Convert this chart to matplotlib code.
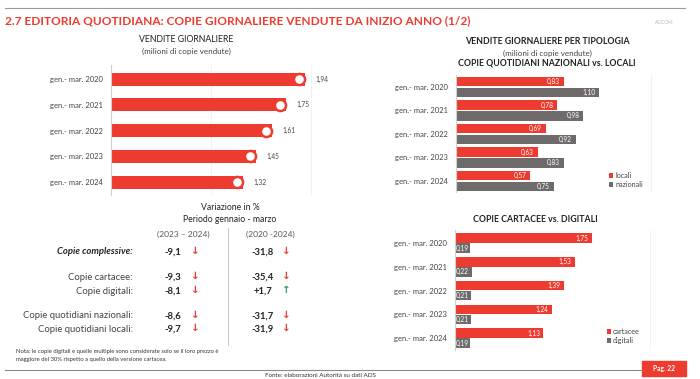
import matplotlib.pyplot as plt
from matplotlib.patches import Rectangle

plt.rcParams['font.family'] = ['Lato', 'DejaVu Sans']

RED = '#ee3b2f'
GRAY = '#6f6b6b'
DARK = '#222222'

periods = ['gen.- mar. 2020', 'gen.- mar. 2021', 'gen.- mar. 2022',
           'gen.- mar. 2023', 'gen.- mar. 2024']
totali = [1.94, 1.75, 1.61, 1.45, 1.32]
locali = [0.83, 0.78, 0.69, 0.63, 0.57]
nazionali = [1.10, 0.98, 0.92, 0.83, 0.75]
cartacee = [1.75, 1.53, 1.39, 1.24, 1.13]
digitali = [0.19, 0.22, 0.21, 0.21, 0.19]

var_labels = ['Copie complessive:', 'Copie cartacee:', 'Copie digitali:',
              'Copie quotidiani nazionali:', 'Copie quotidiani locali:']
var_2324 = [-9.1, -9.3, -8.1, -8.6, -9.7]
var_2024 = [-31.8, -35.4, 1.7, -31.7, -31.9]

W, H = 700, 379
fig = plt.figure(figsize=(W / 100, H / 100), dpi=100)


def px_axes(x0, y0, x1, y1):
    # axes from a pixel box, origin top-left
    return fig.add_axes([x0 / W, 1 - y1 / H, (x1 - x0) / W, (y1 - y0) / H])


def ftext(x, y, s, **kw):
    fig.text(x / W, 1 - y / H, s, **kw)


def num(v):
    return f'{v:.2f}'.replace('.', ',')


def pct(v):
    s = f'{v:+.1f}' if v > 0 else f'{v:.1f}'
    return s.replace('.', ',')


def style_axes(ax):
    for side in ['top', 'right', 'bottom']:
        ax.spines[side].set_visible(False)
    ax.spines['left'].set_color('#d0d0d0')
    ax.tick_params(axis='y', length=0, labelsize=5.5, colors='#444444', pad=6)
    ax.set_xticks([])
    ax.set_facecolor('none')


# header
fig.add_artist(plt.Line2D([5 / W, 685 / W], [1 - 8 / H, 1 - 8 / H], color='#9a9a9a', lw=0.8))
ftext(5, 21, '2.7 EDITORIA QUOTIDIANA: COPIE GIORNALIERE VENDUTE DA INIZIO ANNO (1/2)',
      color=RED, fontsize=8.6, fontweight='bold', va='center')
ftext(664, 22, 'AGCOM', color='#b8b8b8', fontsize=3.5, ha='center', va='center')

# left chart: total daily sales
ftext(186, 40, 'VENDITE GIORNALIERE', fontsize=6.3, ha='center', va='center', color=DARK)
ftext(186, 51, '(milioni di copie vendute)', fontsize=5.8, ha='center', va='center', color='#444444')
ax1 = px_axes(111, 65, 331, 195)
y = list(range(len(periods)))
ax1.barh(y, totali, height=0.5, color=RED, zorder=2)
ax1.plot([v - 0.06 for v in totali], y, 'o', ms=8, mfc='white', mec=RED, mew=1.8, zorder=3)
for yi, v in zip(y, totali):
    ax1.text(v + 0.1, yi, num(v), fontsize=4.8, va='center', color='#444444')
ax1.set_xlim(0, 2.2)
ax1.set_ylim(4.5, -0.55)
ax1.set_yticks(y, periods)
for g in [1, 2]:
    ax1.axvline(g, color='#f0f0f0', lw=0.6, zorder=0)
style_axes(ax1)

# variation table
ftext(230, 207, 'Variazione in %', fontsize=6.2, ha='center', va='center', color=DARK)
ftext(230, 220, 'Periodo gennaio - marzo', fontsize=6.2, ha='center', va='center', color=DARK)
ftext(183, 234, '(2023 \u2013 2024)', fontsize=6.0, ha='center', va='center', color='#555555')
ftext(270, 234, '(2020 -2024)', fontsize=6.0, ha='center', va='center', color='#555555')
fig.add_artist(plt.Line2D([228 / W, 228 / W], [1 - 228 / H, 1 - 345 / H], color='#c8c8c8', lw=0.7))
row_y = [252, 277, 291, 316, 329]
for i, (lab, a, b, ry) in enumerate(zip(var_labels, var_2324, var_2024, row_y)):
    if i == 0:
        ftext(133, ry, lab, fontsize=6.8, ha='right', va='center', fontweight='bold',
              style='italic', color=DARK)
    else:
        ftext(133, ry, lab, fontsize=6.8, ha='right', va='center', color='#444444')
    ftext(173, ry, pct(a), fontsize=6.8, ha='center', va='center', fontweight='bold', color=DARK)
    ftext(263, ry, pct(b), fontsize=6.8, ha='center', va='center', fontweight='bold', color=DARK)
    for xa, v in [(195, a), (286, b)]:
        ftext(xa, ry - 1, '\u2191' if v > 0 else '\u2193', fontsize=7.5, ha='center', va='center',
              fontweight='bold', color='#3f9a5a' if v > 0 else RED, family='DejaVu Sans')

ftext(16, 352, 'Nota: le copie digitali e quelle multiple sono considerate solo se il loro prezzo \u00e8',
      fontsize=4.2, va='center', color='#333333')
ftext(16, 359, 'maggiore del 30% rispetto a quello della versione cartacea.',
      fontsize=4.2, va='center', color='#333333')

# right top: nazionali vs locali
ftext(547, 42, 'VENDITE GIORNALIERE PER TIPOLOGIA', fontsize=6.3, ha='center', va='center',
      color=DARK, fontweight='bold')
ftext(547, 53, '(milioni di copie vendute)', fontsize=5.8, ha='center', va='center', color='#444444')
ftext(547, 63, 'COPIE QUOTIDIANI NAZIONALI vs. LOCALI', fontsize=6.3, ha='center', va='center',
      color=DARK, fontweight='bold')
ax2 = px_axes(456, 75, 664, 192)
off = 0.23
b1 = ax2.barh([i - off for i in y], locali, height=0.4, color=RED, zorder=2, label='locali')
b2 = ax2.barh([i + off for i in y], nazionali, height=0.4, color=GRAY, zorder=2, label='nazionali')
for yi, v in zip(y, locali):
    ax2.text(v - 0.03, yi - off, num(v), fontsize=4.7, ha='right', va='center', color='white')
for yi, v in zip(y, nazionali):
    ax2.text(v - 0.03, yi + off, num(v), fontsize=4.7, ha='right', va='center', color='white')
ax2.set_xlim(0, 1.6)
ax2.set_ylim(4.47, -0.51)
ax2.set_yticks(y, periods)
ax2.axvline(1.5, color='#f0f0f0', lw=0.6, zorder=0)
style_axes(ax2)
ax2.legend(handles=[b1, b2], loc='center left', bbox_to_anchor=(605 / W, 1 - 180 / H),
           bbox_transform=fig.transFigure, frameon=False, fontsize=5.2, handlelength=0.6,
           handleheight=0.6, handletextpad=0.3, labelspacing=0.3, borderpad=0, labelcolor='#444444')

# right bottom: cartacee vs digitali
ftext(535, 219, 'COPIE CARTACEE vs. DIGITALI', fontsize=6.3, ha='center', va='center',
      color=DARK, fontweight='bold')
ax3 = px_axes(455, 230, 666, 350)
off = 0.21
c1 = ax3.barh([i - off for i in y], cartacee, height=0.4, color=RED, zorder=2, label='cartacee')
c2 = ax3.barh([i + off for i in y], digitali, height=0.4, color=GRAY, zorder=2, label='digitali')
for yi, v in zip(y, cartacee):
    ax3.text(v - 0.04, yi - off, num(v), fontsize=4.7, ha='right', va='center', color='white')
for yi, v in zip(y, digitali):
    ax3.text(0.01, yi + off, num(v), fontsize=4.7, ha='left', va='center', color='white')
ax3.set_xlim(0, 2.7)
ax3.set_ylim(4.5, -0.55)
ax3.set_yticks(y, periods)
ax3.axvline(2.5, color='#f0f0f0', lw=0.6, zorder=0)
style_axes(ax3)
ax3.legend(handles=[c1, c2], loc='center left', bbox_to_anchor=(603 / W, 1 - 336 / H),
           bbox_transform=fig.transFigure, frameon=False, fontsize=5.2, handlelength=0.6,
           handleheight=0.6, handletextpad=0.3, labelspacing=0.3, borderpad=0, labelcolor='#444444')

# footer
fig.add_artist(plt.Line2D([5 / W, 642 / W], [1 - 370 / H, 1 - 370 / H], color='#8a8a8a', lw=0.8))
fig.add_artist(Rectangle((642 / W, 1 - 376 / H), 44 / W, 15 / H, color=RED,
                         transform=fig.transFigure))
ftext(664, 368.5, 'Pag. 22', fontsize=4.8, ha='center', va='center', color='white', fontweight='bold')
ftext(320, 375.5, 'Fonte: elaborazioni Autorit\u00e0 su dati ADS', fontsize=4.5, ha='center',
      va='center', color='#333333')

fig.savefig('out.png', dpi=100, facecolor='white')
